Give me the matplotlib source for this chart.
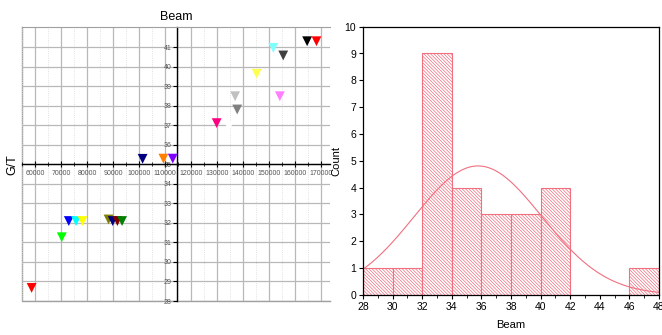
import numpy as np
import matplotlib
matplotlib.use('Agg')
import matplotlib.pyplot as plt
from matplotlib.ticker import MultipleLocator

plt.rcParams['font.family'] = ['Liberation Sans', 'DejaVu Sans']
plt.rcParams['hatch.linewidth'] = 0.5

# scatter: beam vs G/T
beam = [101400, 109400, 113000, 129900, 134600, 137000, 137800, 145300,
        151700, 155500, 154200, 164700, 168300,
        58700, 70300, 73000, 75800, 78300, 88300, 89900, 91700, 93500]
gt = [35.29, 35.3, 35.3, 37.12, 36.96, 38.5, 37.82, 39.65,
      40.98, 40.59, 38.5, 41.32, 41.32,
      28.67, 31.27, 32.1, 32.1, 32.1, 32.18, 32.1, 32.1, 32.1]
point_colors = ['#000080', '#ff8000', '#8000ff', '#ff0080', '#ffffff', '#c0c0c0',
                '#808080', '#ffff50', '#80ffff', '#404040', '#ff80ff', '#000000',
                '#ff0000',
                '#ff0000', '#00ff00', '#0000ff', '#00ffff', '#ffff00', '#808000',
                '#000080', '#800000', '#008000']

# histogram values
hist_values = [28.67, 31.27, 32.1, 32.1, 32.1, 32.1, 32.1, 32.1, 32.1, 32.2, 32.3,
               35.3, 35.3, 35.3, 35.3, 37.1, 37.8, 37.0, 38.5, 38.5, 39.65,
               40.6, 41.0, 41.3, 41.3, 47.0]
bin_edges = np.arange(28, 50, 2)

fig = plt.figure(figsize=(6.62, 3.35), dpi=100)

# ---- left: scatter with centred axes
ax = fig.add_axes([22/662, 1 - 301/335, 308/662, 274/335])
x_cross = 114600
y_cross = 35
ax.set_xlim(55000, 173500)
ax.set_ylim(28, 42.05)
ax.set_xticks(np.arange(60000, 175000, 10000))
ax.xaxis.set_minor_locator(MultipleLocator(5000))
ax.set_yticks(np.arange(28, 42, 1))
ax.grid(True, which='major', color='#b8b8b8', lw=0.9)
ax.grid(True, which='minor', axis='x', color='#d8d8d8', lw=0.6, ls=':')
ax.set_axisbelow(True)

ax.spines['left'].set_position(('data', x_cross))
ax.spines['bottom'].set_position(('data', y_cross))
for s in ['left', 'bottom']:
    ax.spines[s].set_color('black')
    ax.spines[s].set_linewidth(1.0)
ax.spines['top'].set_color('#a0a0a0')
ax.spines['right'].set_visible(False)
# outer frame on left and bottom
ax.plot([0, 0, 1], [1, 0, 0], transform=ax.transAxes, color='#a0a0a0', lw=1,
        clip_on=False, zorder=0.5)
ax.tick_params(axis='x', which='major', direction='inout', length=4, width=0.8,
               labelsize=5, labelcolor='#555555', pad=2)
ax.tick_params(axis='x', which='minor', direction='inout', length=2.5, width=0.6)
ax.tick_params(axis='y', direction='out', length=3, width=0.8,
               labelsize=5, labelcolor='#555555', pad=1)

ax.scatter(beam, gt, marker='v', s=50, c=point_colors, edgecolors='none', zorder=3)
ax.set_title('Beam', fontsize=9, pad=5)
fig.text(12/662, 1 - 165/335, 'G/T', rotation=90, ha='center', va='center', fontsize=9)

# ---- right: histogram with normal fit
ax2 = fig.add_axes([363/662, 1 - 294.7/335, 296/662, 268/335])
hcol = '#f07080'
ax2.hist(hist_values, bins=bin_edges, facecolor='white', edgecolor=hcol,
         hatch='\\' * 10, lw=0.8)
mu = np.mean(hist_values)
sd = np.std(hist_values, ddof=1)
xs = np.linspace(28, 48, 300)
ys = len(hist_values) * 2 / (sd * np.sqrt(2 * np.pi)) * np.exp(-0.5 * ((xs - mu) / sd) ** 2)
ax2.plot(xs, ys, color=hcol, lw=0.8)
ax2.set_xlim(28, 48)
ax2.set_ylim(0, 10)
ax2.set_xticks(np.arange(28, 50, 2))
ax2.xaxis.set_minor_locator(MultipleLocator(1))
ax2.set_yticks(np.arange(0, 11, 1))
ax2.tick_params(axis='both', which='major', length=3, width=0.8, labelsize=7.5, pad=2)
ax2.tick_params(axis='x', which='minor', length=2, width=0.6)
for s in ax2.spines.values():
    s.set_linewidth(0.9)
ax2.set_xlabel('Beam', fontsize=8, labelpad=6)
ax2.set_ylabel('Count', fontsize=8)
ax2.yaxis.set_label_coords(-0.074, 0.5)

fig.savefig('out.png', dpi=100)
